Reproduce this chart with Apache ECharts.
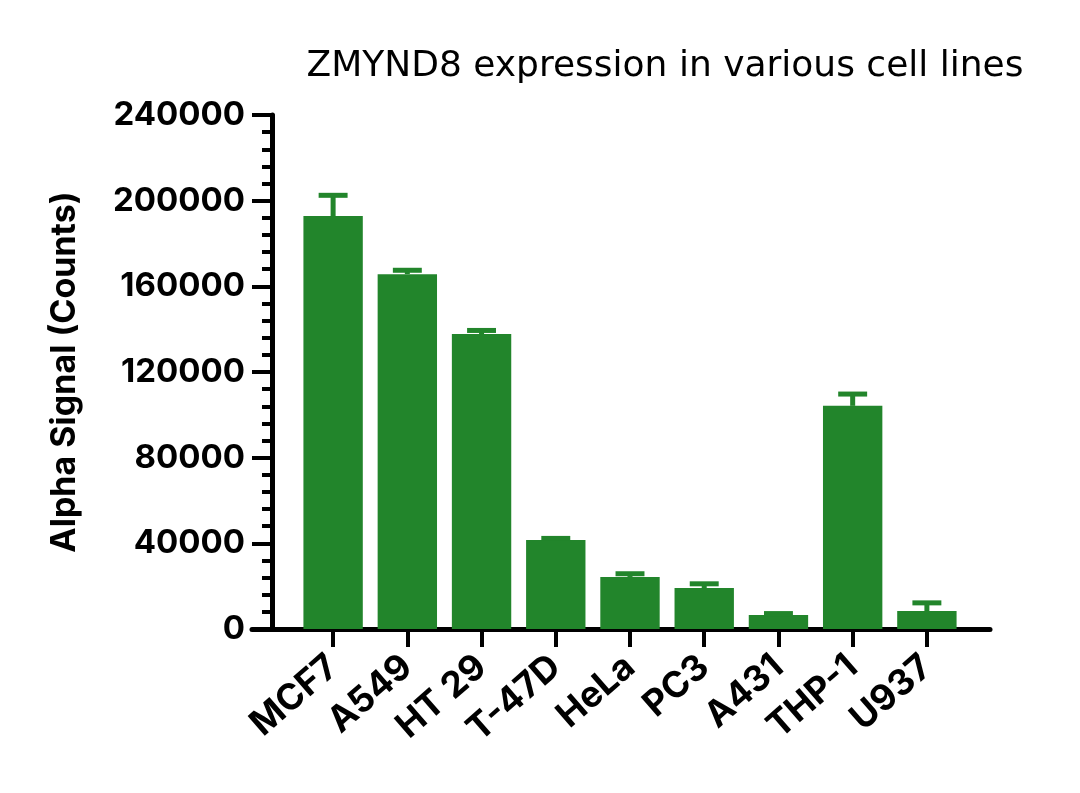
<!DOCTYPE html>
<html>
<head>
<meta charset="utf-8">
<script src="https://cdn.jsdelivr.net/npm/echarts@6/dist/echarts.min.js"></script>
<style>
html,body{margin:0;padding:0;background:#fff;}
#chart{width:1080px;height:793px;}
</style>
</head>
<body>
<div id="chart"></div>
<script>
const categories = ['MCF7', 'A549', 'HT 29', 'T-47D', 'HeLa', 'PC3', 'A431', 'THP-1', 'U937'];
const means = [192800, 165700, 137700, 41500, 24300, 19100, 6500, 104200, 8400];
const errors = [9700, 1800, 1700, 800, 1500, 2000, 700, 5500, 3800];
const yTicks = [0, 40000, 80000, 120000, 160000, 200000, 240000];

const GREEN = '#22852b';
const FONT = 'Inter';

const chart = echarts.init(document.getElementById('chart'), null, {renderer: 'canvas'});

const errData = categories.map((c, i) => [i, means[i], means[i] + errors[i]]);

const option = {
  backgroundColor: '#ffffff',
  animation: false,
  title: {
    text: 'ZMYND8 expression in various cell lines',
    left: 660, top: 44, textAlign: 'center',
    textStyle: {fontFamily: 'DejaVu Sans', fontWeight: 400, fontSize: 36, color: '#000'}
  },
  grid: [
    {left: 252, right: 90, top: 115, bottom: 164},
    {left: 296, right: 116, top: 115, bottom: 164}
  ],
  xAxis: [
    {
      gridIndex: 0, type: 'value', min: 0, max: 1,
      axisLine: {show: true, lineStyle: {color: '#000', width: 5}},
      axisTick: {show: false}, axisLabel: {show: false}, splitLine: {show: false}
    },
    {
      gridIndex: 1, type: 'category', data: categories,
      axisLine: {show: false},
      axisTick: {show: true, alignWithLabel: true, length: 18, inside: false,
                 lineStyle: {color: '#000', width: 4}},
      axisLabel: {rotate: 41, margin: 33, fontFamily: FONT, fontWeight: 700,
                  fontSize: 36, color: '#000', interval: 0},
      splitLine: {show: false}
    }
  ],
  yAxis: [
    {gridIndex: 0, type: 'value', min: 0, max: 240000, show: false},
    {
      gridIndex: 1, type: 'value', min: 0, max: 240000, interval: 40000, offset: 24,
      name: 'Alpha Signal (Counts)', nameLocation: 'middle', nameGap: 190, nameRotate: 90,
      nameTextStyle: {fontFamily: FONT, fontWeight: 700, fontSize: 34, color: '#000'},
      axisLine: {show: true, lineStyle: {color: '#000', width: 5}},
      axisTick: {show: true, length: 20, lineStyle: {color: '#000', width: 4}},
      minorTick: {show: true, splitNumber: 5, length: 10, lineStyle: {color: '#000', width: 4}},
      axisLabel: {margin: 27, fontFamily: FONT, fontWeight: 700, fontSize: 33, color: '#000',
                  formatter: v => yTicks.includes(v) ? String(v) : ''},
      splitLine: {show: false}
    }
  ],
  series: [
    {
      type: 'bar', xAxisIndex: 1, yAxisIndex: 1, data: means,
      barWidth: '80%', itemStyle: {color: GREEN}, z: 2
    },
    {
      type: 'custom', xAxisIndex: 1, yAxisIndex: 1, data: errData, z: 3,
      renderItem: function (params, api) {
        const x = api.value(0);
        const base = api.coord([x, api.value(1)]);
        const top = api.coord([x, api.value(2)]);
        const bw = api.size([1, 0])[0];
        const hw = bw * 0.195;
        const style = {stroke: GREEN, lineWidth: 5, fill: null};
        return {
          type: 'group',
          children: [
            {type: 'line', shape: {x1: base[0], y1: base[1], x2: top[0], y2: top[1]}, style: style},
            {type: 'line', shape: {x1: top[0] - hw, y1: top[1], x2: top[0] + hw, y2: top[1]}, style: style}
          ]
        };
      }
    }
  ]
};
chart.setOption(option);
</script>
</body>
</html>
